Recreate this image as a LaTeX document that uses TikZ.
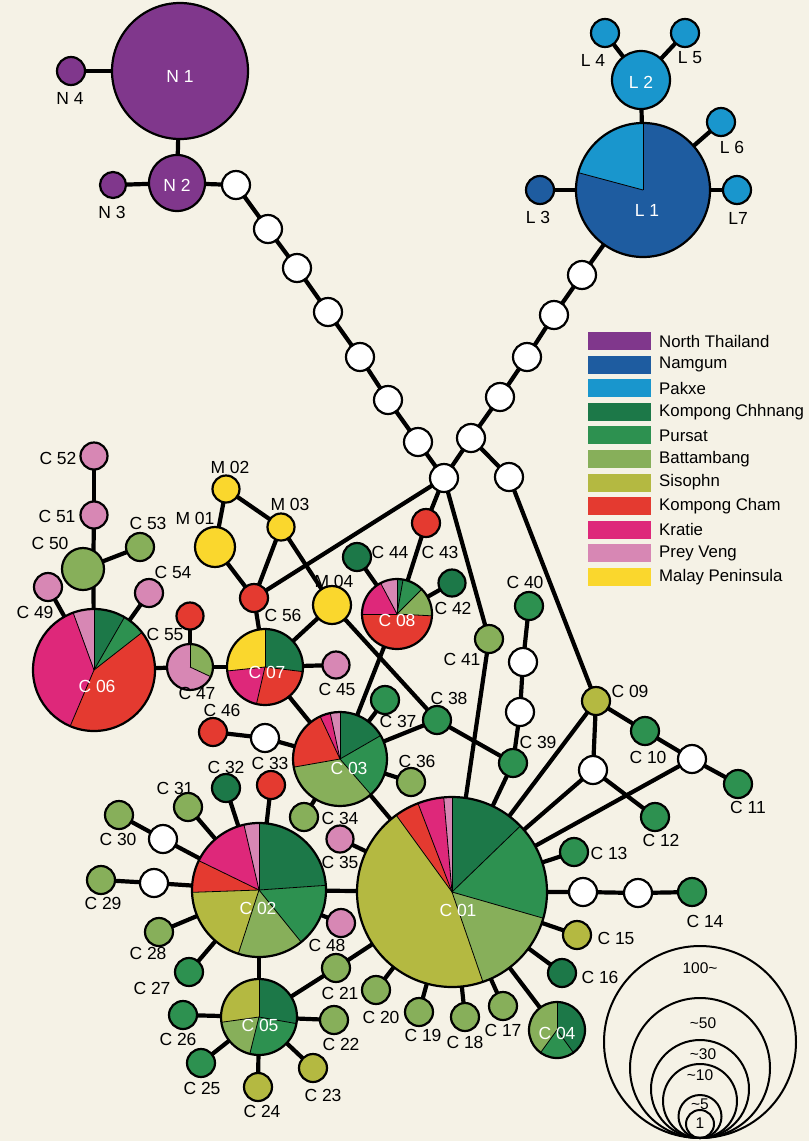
\documentclass[tikz,border=0pt]{standalone}
\usepackage{fontspec}
\setmainfont{Liberation Sans}
\pgfdeclarelayer{back}\pgfdeclarelayer{edges}
\pgfsetlayers{back,edges,main}
\definecolor{bgc}{RGB}{245,242,230}
\definecolor{cNT}{RGB}{128,55,140}
\definecolor{cNG}{RGB}{30,92,160}
\definecolor{cPK}{RGB}{25,150,205}
\definecolor{cKC}{RGB}{28,120,72}
\definecolor{cPU}{RGB}{45,145,80}
\definecolor{cBA}{RGB}{135,175,90}
\definecolor{cSI}{RGB}{180,185,65}
\definecolor{cKM}{RGB}{228,58,48}
\definecolor{cKR}{RGB}{222,40,122}
\definecolor{cPV}{RGB}{215,135,180}
\definecolor{cMA}{RGB}{250,215,45}
\tikzset{
 hap/.style={circle,draw=black,line width=2.2pt,inner sep=0pt,outer sep=0pt},
 edge/.style={line width=4.2pt},
 lab/.style={inner sep=0pt,font=\fontsize{17.5}{19}\selectfont},
 glab/.style={inner sep=0pt,font=\fontsize{16.8}{18}\selectfont},
 wlab/.style={lab,text=white},
 sw/.style={draw=none,minimum width=63pt,minimum height=18pt,inner sep=0pt},
 scl/.style={circle,draw=black,line width=2pt,inner sep=0pt,outer sep=0pt},
 slab/.style={inner sep=0pt,font=\fontsize{15.5}{16}\selectfont},
}
\newcommand\hn[4]{\node[hap,fill=#4,minimum size={2*#3pt}] (#1) at (#2) {};}
\newcommand\wn[2]{\node[hap,fill=white,minimum size=28pt] (#1) at (#2) {};}
\newcommand\pn[4]{%
  \foreach \sa/\sb/\sc in {#4}{\fill[\sc] (#2) -- ++(\sa:#3) arc[start angle=\sa,end angle=\sb,radius=#3] -- cycle;}
  \foreach \sa/\sb/\sc in {#4}{\draw[line width=0.8pt] (#2) -- ++(\sa:#3);}
  \node[hap,minimum size={2*#3pt}] (#1) at (#2) {};}
\begin{document}
\begin{tikzpicture}[x=1pt,y=1pt]
\begin{pgfonlayer}{back}
\fill[bgc] (0,0) rectangle (809,-1141);
\end{pgfonlayer}
\useasboundingbox (0,0) rectangle (809,-1141);

% ---------- North Thailand ----------
\hn{N1}{180,-71}{68}{cNT}
\hn{N4}{71,-71}{14}{cNT}
\hn{N2}{177,-183}{28}{cNT}
\hn{N3}{113,-185}{13}{cNT}
\node[wlab] (tN1) at (180,-76) {N 1};
\node[wlab] (tN2) at (177,-185) {N 2};
\node[lab] (tN4) at (70,-98) {N 4};
\node[lab] (tN3) at (112,-212) {N 3};
\wn{w1}{236,-185}\wn{w2}{268,-229}\wn{w3}{297,-268}\wn{w4}{328,-312}
\wn{w5}{360,-357}\wn{w6}{388,-400}\wn{w7}{418,-442}\wn{J1}{444,-478}

% ---------- Laos ----------
\pn{L1}{643,-190}{67}{90/165/cPK,165/450/cNG}
\hn{L2}{641,-80}{29}{cPK}
\hn{L4}{605,-33}{14}{cPK}
\hn{L5}{685,-33}{14}{cPK}
\hn{L6}{721,-122}{14}{cPK}
\hn{L7}{737,-190}{14}{cPK}
\hn{L3}{540,-190}{14}{cNG}
\node[wlab] (tL1) at (647,-210) {L 1};
\node[wlab] (tL2) at (641,-82) {L 2};
\node[lab] (tL4) at (593,-60) {L 4};
\node[lab] (tL5) at (690,-58) {L 5};
\node[lab] (tL6) at (732,-147) {L 6};
\node[lab] (tL7) at (738,-218) {L7};
\node[lab] (tL3) at (538,-217) {L 3};
\wn{v1}{582,-275}\wn{v2}{554,-315}\wn{v3}{527,-357}\wn{v4}{500,-397}
\wn{v5}{471,-438}\wn{v6}{509,-477}

% ---------- Legend ----------
\foreach \yy/\cc/\tt [count=\i] in {341/cNT/North Thailand,364.6/cNG/Namgum,388.2/cPK/Pakxe,411.8/cKC/Kompong Chhnang,435.4/cPU/Pursat,459/cBA/Battambang,482.6/cSI/Sisophn,506.2/cKM/Kompong Cham,529.8/cKR/Kratie,553.4/cPV/Prey Veng,577/cMA/Malay Peninsula}{
  \node[sw,fill=\cc] (sw\i) at (619.5,-\yy) {};
  \node[glab,anchor=west] (lg\i) at (659,-\yy) {\tt};
}

% ---------- C06 group ----------
\pn{C06}{94,-670}{61}{60/90/cKC,90/110/cPV,110/247/cKR,247/398/cKM,38/60/cPU}
\node[wlab] (tC06) at (97,-686) {C 06};
\hn{C49}{48,-587}{14}{cPV}
\hn{C50}{83,-569}{21}{cBA}
\hn{C51}{94,-515}{13.5}{cPV}
\hn{C52}{94,-456}{13.5}{cPV}
\hn{C53}{140,-547}{14}{cBA}
\hn{C54}{149,-593}{14}{cPV}
\hn{C55}{190,-616}{13.5}{cKM}
\pn{C47}{190,-667}{23}{335/450/cBA,90/335/cPV}
\node[lab] (tC52) at (58,-458) {C 52};
\node[lab] (tC51) at (57,-516) {C 51};
\node[lab] (tC50) at (50,-543) {C 50};
\node[lab] (tC53) at (148,-523) {C 53};
\node[lab] (tC49) at (35,-612) {C 49};
\node[lab] (tC54) at (173,-572) {C 54};
\node[lab] (tC55) at (165,-634) {C 55};
\node[lab] (tC47) at (197,-693) {C 47};

% ---------- C07 / M group ----------
\pn{C07}{265,-667}{38}{-7/90/cKC,90/186/cMA,186/257/cKR,257/353/cKM}
\node[wlab] (tC07) at (267,-672) {C 07};
\hn{C56}{254,-598}{14}{cKM}
\hn{M01}{215,-547}{20}{cMA}
\hn{M02}{226,-489}{13.5}{cMA}
\hn{M03}{281,-527}{13.5}{cMA}
\hn{M04}{332,-605}{19}{cMA}
\hn{C45}{336,-665}{13.5}{cPV}
\node[lab] (tC56) at (283,-615) {C 56};
\node[lab] (tM01) at (195,-518) {M 01};
\node[lab] (tM02) at (230,-467) {M 02};
\node[lab] (tM03) at (290,-504) {M 03};
\node[lab] (tM04) at (334,-581) {M 04};
\node[lab] (tC45) at (337,-689) {C 45};

% ---------- C08 ----------
\pn{C08}{397,-614}{35}{180/357/cKM,357/405/cBA,45/80/cPU,80/90/cKC,90/118/cPV,118/180/cKR}
\node[wlab] (tC08) at (397,-620) {C 08};
\hn{C44}{357,-557}{14}{cKC}
\hn{C43}{426,-523}{14}{cKM}
\hn{C42}{452,-583}{13.5}{cKC}
\hn{C41}{489,-639}{14}{cBA}
\hn{C40}{529,-606}{14}{cPU}
\wn{x1}{523,-662}\wn{x2}{520,-712}
\node[lab] (tC44) at (390,-552) {C 44};
\node[lab] (tC43) at (440,-552) {C 43};
\node[lab] (tC42) at (453,-608) {C 42};
\node[lab] (tC41) at (462,-659) {C 41};
\node[lab] (tC40) at (525,-582) {C 40};

% ---------- C03 ----------
\pn{C03}{340,-759}{47}{30/90/cKC,90/102/cPV,102/115/cKR,115/190/cKM,190/311/cBA,311/390/cPU}
\node[wlab] (tC03) at (349,-768) {C 03};
\hn{C37}{385,-700}{14}{cPU}
\hn{C38}{437,-720}{14}{cPU}
\hn{C39}{513,-763}{14}{cPU}
\hn{C36}{411,-782}{14}{cBA}
\hn{C34}{304,-817}{14}{cBA}
\hn{C35}{340,-839}{13.5}{cPV}
\hn{C46}{213,-732}{14}{cKM}
\wn{u1}{265,-738}
\node[lab] (tC37) at (398,-721) {C 37};
\node[lab] (tC38) at (449,-698) {C 38};
\node[lab] (tC39) at (538,-742) {C 39};
\node[lab] (tC36) at (417,-761) {C 36};
\node[lab] (tC34) at (340,-818) {C 34};
\node[lab] (tC35) at (340,-862) {C 35};
\node[lab] (tC46) at (222,-710) {C 46};

% ---------- C01 ----------
\pn{C01}{452,-892}{95}{44/90/cKC,90/95/cPV,95/111/cKR,111/126/cKM,126/289/cSI,289/344/cBA,344/404/cPU}
\node[wlab] (tC01) at (458,-910) {C 01};
\hn{C09}{596,-701}{14}{cSI}
\hn{C10}{645,-731}{14}{cPU}
\wn{W10}{692,-759}
\hn{C11}{738,-784}{14}{cPU}
\wn{W12}{593,-770}
\hn{C12}{655,-817}{14}{cPU}
\hn{C13}{574,-852}{14}{cPU}
\wn{y1}{583,-892}\wn{y2}{638,-893}
\hn{C14}{692,-892}{14}{cPU}
\hn{C15}{577,-935}{14}{cSI}
\hn{C16}{562,-973}{14}{cKC}
\pn{C04}{557,-1030}{28}{90/234/cBA,234/306/cPU,306/450/cKC}
\node[wlab] (tC04) at (557,-1033) {C 04};
\hn{C17}{503,-1006}{14}{cBA}
\hn{C18}{465,-1017}{14}{cBA}
\hn{C19}{419,-1012}{14}{cBA}
\hn{C20}{376,-990}{14}{cBA}
\hn{C21}{336,-968}{14}{cBA}
\hn{C22}{334,-1020}{14}{cBA}
\hn{C23}{313,-1068}{14}{cSI}
\hn{C48}{341,-923}{14}{cPV}
\node[lab] (tC09) at (630,-691) {C 09};
\node[lab] (tC10) at (648,-757) {C 10};
\node[lab] (tC11) at (748,-807) {C 11};
\node[lab] (tC12) at (661,-840) {C 12};
\node[lab] (tC13) at (609,-853) {C 13};
\node[lab] (tC14) at (705,-921) {C 14};
\node[lab] (tC15) at (616,-938) {C 15};
\node[lab] (tC16) at (600,-977) {C 16};
\node[lab] (tC17) at (503,-1030) {C 17};
\node[lab] (tC18) at (465,-1042) {C 18};
\node[lab] (tC19) at (423,-1035) {C 19};
\node[lab] (tC20) at (381,-1017) {C 20};
\node[lab] (tC21) at (340,-993) {C 21};
\node[lab] (tC22) at (341,-1044) {C 22};
\node[lab] (tC23) at (323,-1095) {C 23};
\node[lab] (tC48) at (327,-945) {C 48};

% ---------- C02 / C05 ----------
\pn{C02}{259,-890}{67}{4/90/cKC,90/103/cPV,103/154/cKR,154/182/cKM,182/252/cSI,252/309/cBA,309/364/cPU}
\node[wlab] (tC02) at (258,-908) {C 02};
\hn{C32}{226,-788}{14}{cKC}
\hn{C33}{271,-785}{14}{cKM}
\hn{C31}{188,-807}{14}{cBA}
\wn{z30}{163,-839}
\hn{C30}{119,-815}{14}{cBA}
\wn{z29}{154,-883}
\hn{C29}{101,-880}{14}{cBA}
\hn{C28}{159,-932}{14}{cBA}
\hn{C27}{189,-972}{14}{cPU}
\pn{C05}{259,-1017}{38}{350/450/cKC,90/188/cSI,188/256/cBA,256/350/cPU}
\node[wlab] (tC05) at (260,-1025) {C 05};
\hn{C26}{183,-1015}{14}{cPU}
\hn{C25}{201,-1063}{14}{cPU}
\hn{C24}{258,-1087}{14}{cSI}
\node[lab] (tC32) at (226,-767) {C 32};
\node[lab] (tC33) at (270,-763) {C 33};
\node[lab] (tC31) at (175,-788) {C 31};
\node[lab] (tC30) at (118,-839) {C 30};
\node[lab] (tC29) at (103,-903) {C 29};
\node[lab] (tC28) at (148,-953) {C 28};
\node[lab] (tC27) at (152,-988) {C 27};
\node[lab] (tC26) at (178,-1039) {C 26};
\node[lab] (tC25) at (202,-1088) {C 25};
\node[lab] (tC24) at (262,-1111) {C 24};

% ---------- scale ----------
\node[scl,minimum size=192pt] (s100) at (700,-1042) {};
\node[scl,minimum size=140pt] (s50) at (700,-1068) {};
\node[scl,minimum size=98pt] (s30) at (700,-1089) {};
\node[scl,minimum size=74pt] (s10) at (700,-1101) {};
\node[scl,minimum size=43pt] (s5) at (700,-1116.5) {};
\node[scl,minimum size=28pt] (s1) at (700,-1124) {};
\node[slab] (ts100) at (700,-968) {100\textasciitilde};
\node[slab] (ts50) at (703,-1023) {\textasciitilde 50};
\node[slab] (ts30) at (703,-1054) {\textasciitilde 30};
\node[slab] (ts10) at (700,-1075) {\textasciitilde 10};
\node[slab] (ts5) at (700,-1104) {\textasciitilde 5};
\node[slab] (ts1) at (700,-1123) {1};

% ---------- edges ----------
\begin{pgfonlayer}{edges}
\draw[edge] (N1) -- (N4);
\draw[edge] (N1) -- (N2);
\draw[edge] (N2) -- (N3);
\draw[edge] (N2) -- (w1) -- (w2) -- (w3) -- (w4) -- (w5) -- (w6) -- (w7) -- (J1);
\draw[edge] (L1) -- (L2);
\draw[edge] (L2) -- (L4);
\draw[edge] (L2) -- (L5);
\draw[edge] (L1) -- (L3);
\draw[edge] (L1) -- (L6);
\draw[edge] (L1) -- (L7);
\draw[edge] (L1) -- (v1) -- (v2) -- (v3) -- (v4) -- (v5) -- (J1);
\draw[edge] (v5) -- (v6);
\draw[edge] (v6) -- (C09);
\draw[edge] (J1) -- (C56);
\draw[edge] (J1) -- (C43);
\draw[edge] (J1) -- (C41);
\draw[edge] (C41) -- (C01);
\draw[edge] (C43) -- (C08);
\draw[edge] (C44) -- (C08);
\draw[edge] (C42) -- (C08);
\draw[edge] (C08) -- (C03);
\draw[edge] (C56) -- (M01);
\draw[edge] (M01) -- (M02);
\draw[edge] (M02) -- (M03);
\draw[edge] (M03) -- (C56);
\draw[edge] (M03) -- (M04);
\draw[edge] (M04) -- (C07);
\draw[edge] (M04) -- (C38);
\draw[edge] (C56) -- (C07);
\draw[edge] (C07) -- (C47);
\draw[edge] (C47) -- (C06);
\draw[edge] (C47) -- (C55);
\draw[edge] (C07) -- (C45);
\draw[edge] (C07) -- (C03);
\draw[edge] (C06) -- (C49);
\draw[edge] (C50.-60) -- (C06);
\draw[edge] (C51) -- (C50.60);
\draw[edge] (C51) -- (C52);
\draw[edge] (C50) -- (C53);
\draw[edge] (C06) -- (C54);
\draw[edge] (C46) -- (u1);
\draw[edge] (u1) -- (C03);
\draw[edge] (C03) -- (C37);
\draw[edge] (C03) -- (C38);
\draw[edge] (C38) -- (C39);
\draw[edge] (C03) -- (C36);
\draw[edge] (C03) -- (C34);
\draw[edge] (C03) -- (C01);
\draw[edge] (C40) -- (x1) -- (x2) -- (C39);
\draw[edge] (C39) -- (C01);
\draw[edge] (C09) -- (C01);
\draw[edge] (C09) -- (W12);
\draw[edge] (W12) -- (C01);
\draw[edge] (W12) -- (C12);
\draw[edge] (C09) -- (C10) -- (W10) -- (C11);
\draw[edge] (W10) -- (C01);
\draw[edge] (C01) -- (C13);
\draw[edge] (C01) -- (y1) -- (y2) -- (C14);
\draw[edge] (C01) -- (C15);
\draw[edge] (C01) -- (C16);
\draw[edge] (C01) -- (C04);
\draw[edge] (C01) -- (C17);
\draw[edge] (C01) -- (C18);
\draw[edge] (C01) -- (C19);
\draw[edge] (C01) -- (C20);
\draw[edge] (C01) -- (C21);
\draw[edge] (C21) -- (C05);
\draw[edge] (C01) -- (C35);
\draw[edge] (C01) -- (C02);
\draw[edge] (C02) -- (C48);
\draw[edge] (C02) -- (C32);
\draw[edge] (C02) -- (C33);
\draw[edge] (C02) -- (C31);
\draw[edge] (C02) -- (z30) -- (C30);
\draw[edge] (C02) -- (z29) -- (C29);
\draw[edge] (C02) -- (C28);
\draw[edge] (C02) -- (C27);
\draw[edge] (C02) -- (C05);
\draw[edge] (C05) -- (C26);
\draw[edge] (C05) -- (C25);
\draw[edge] (C05) -- (C24);
\draw[edge] (C05) -- (C23);
\draw[edge] (C05) -- (C22);
\end{pgfonlayer}
\end{tikzpicture}
\end{document}
